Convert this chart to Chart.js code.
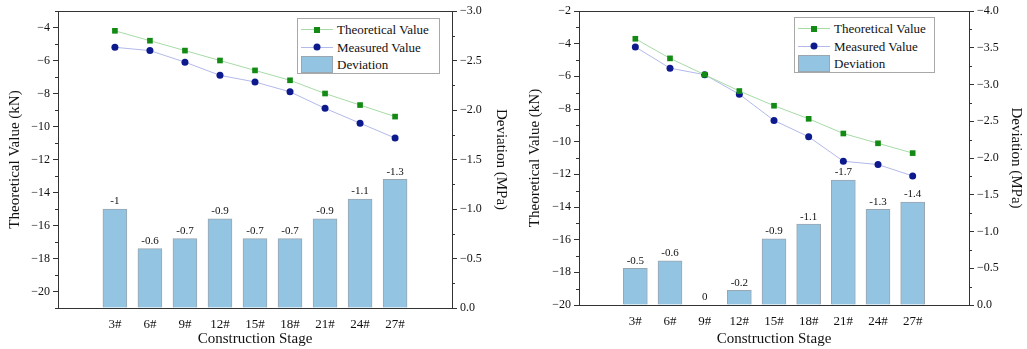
<!DOCTYPE html>
<html>
<head>
<meta charset="utf-8">
<script src="https://cdn.jsdelivr.net/npm/chart.js@4.4.1/dist/chart.umd.min.js"></script>
<style>
  body { margin: 0; background: #fff; width: 1027px; height: 349px; overflow: hidden; position: relative; font-family: "Liberation Serif", "Times New Roman", Tinos, "DejaVu Serif", serif; }
  .panel { position: absolute; top: 0; height: 349px; }
  .legend { position: absolute; background: #fff; border: 1px solid #a8a8a8; font-size: 13px; color: #111; box-sizing: border-box; padding-top: 2px; white-space: nowrap; }
  .row { height: 17.5px; line-height: 17.5px; display: flex; align-items: center; }
  .sym { position: relative; width: 32px; height: 17px; margin: 0 4px 0 3px; flex: none; }
  .sym .ln { position: absolute; left: 0; right: 0; top: 8px; height: 1px; }
  .sym .mk { position: absolute; left: 50%; top: 50%; transform: translate(-50%, -50%); }
  .sym .bx { position: absolute; left: 0; right: 0; top: 0; bottom: 0; border: 1px solid #9aa6b0; }
</style>
</head>
<body>
<div class="panel" style="left:0;width:512px"><canvas id="chartA" width="512" height="349"></canvas></div>
<div class="legend" id="legendA" style="left:297px;top:18px;width:143px;height:56px"></div>
<div class="panel" style="left:520px;width:507px"><canvas id="chartB" width="507" height="349"></canvas></div>
<div class="legend" id="legendB" style="left:794px;top:17px;width:141px;height:56px"></div>

<script>
const stages = [3, 6, 9, 12, 15, 18, 21, 24, 27];
const stageLabels = ['3#', '6#', '9#', '12#', '15#', '18#', '21#', '24#', '27#'];
const seriesNames = ['Theoretical Value', 'Measured Value', 'Deviation'];

// left chart
const theoA = [-4.2, -4.8, -5.4, -6.0, -6.6, -7.2, -8.0, -8.7, -9.4];
const measA = [-5.2, -5.4, -6.1, -6.9, -7.3, -7.9, -8.9, -9.8, -10.7];
const devA = [-1, -0.6, -0.7, -0.9, -0.7, -0.7, -0.9, -1.1, -1.3];
const leftTicksA = [-20, -18, -16, -14, -12, -10, -8, -6, -4];
const rightTicksA = [0, -0.5, -1.0, -1.5, -2.0, -2.5, -3.0];

// right chart
const theoB = [-3.7, -4.9, -5.9, -6.9, -7.8, -8.6, -9.5, -10.1, -10.7];
const measB = [-4.2, -5.5, -5.9, -7.1, -8.7, -9.7, -11.2, -11.4, -12.1];
const devB = [-0.5, -0.6, 0, -0.2, -0.9, -1.1, -1.7, -1.3, -1.4];
const leftTicksB = [-20, -18, -16, -14, -12, -10, -8, -6, -4, -2];
const rightTicksB = [0, -0.5, -1.0, -1.5, -2.0, -2.5, -3.0, -3.5, -4.0];

const greenLine = '#a6dba6', greenMark = '#138a13';
const blueLine = '#b3b9ea', blueMark = '#0c1a8e';
const barFill = '#93c4e2', barEdge = '#9aa6b0';
const axisColor = '#333';
const font = '"Liberation Serif", "Times New Roman", Tinos, "DejaVu Serif", serif';

function minus(s) { return s.replace('-', '\u2212'); }

// minor ticks, top frame, bar value labels
const extras = {
  id: 'extras',
  afterDraw(chart) {
    const ctx = chart.ctx;
    const area = chart.chartArea;
    ctx.save();
    ctx.strokeStyle = axisColor;
    ctx.lineWidth = 1;
    ctx.beginPath();
    ctx.moveTo(area.left, area.top + 0.5);
    ctx.lineTo(area.right, area.top + 0.5);
    ctx.stroke();

    ['y', 'y1'].forEach(id => {
      const s = chart.scales[id];
      const t = s.ticks.map(k => k.value).sort((a, b) => a - b);
      const step = t[1] - t[0];
      const lo = Math.min(s.min, s.max), hi = Math.max(s.min, s.max);
      ctx.beginPath();
      for (let v = t[0] - step / 2; v <= hi + 1e-9; v += step) {
        if (v < lo - 1e-9) continue;
        const py = Math.round(s.getPixelForValue(v)) + 0.5;
        if (id === 'y') { ctx.moveTo(area.left, py); ctx.lineTo(area.left - 3, py); }
        else { ctx.moveTo(area.right, py); ctx.lineTo(area.right + 3, py); }
      }
      ctx.stroke();
    });

    const meta = chart.getDatasetMeta(2);
    const vals = chart.data.datasets[2].data;
    ctx.fillStyle = '#111';
    ctx.font = '11px ' + font;
    ctx.textAlign = 'center';
    ctx.textBaseline = 'bottom';
    meta.data.forEach((el, i) => {
      ctx.fillText(String(vals[i].y), el.x, el.y - 2);
    });
    ctx.restore();
  }
};

function makeChart(id, theo, meas, dev, leftTicks, rightTicks, yMin, yMax, y1Min, leftW, rightW, bottomH) {
  return new Chart(document.getElementById(id), {
    data: {
      datasets: [
        { type: 'line', label: seriesNames[0], yAxisID: 'y', order: 1,
          data: stages.map((x, i) => ({ x, y: theo[i] })),
          borderColor: greenLine, borderWidth: 1, pointStyle: 'rect', pointRadius: 4,
          pointBackgroundColor: greenMark, pointBorderColor: greenMark, pointBorderWidth: 0 },
        { type: 'line', label: seriesNames[1], yAxisID: 'y', order: 2,
          data: stages.map((x, i) => ({ x, y: meas[i] })),
          borderColor: blueLine, borderWidth: 1, pointStyle: 'circle', pointRadius: 3.5,
          pointBackgroundColor: blueMark, pointBorderColor: blueMark, pointBorderWidth: 0 },
        { type: 'bar', label: seriesNames[2], yAxisID: 'y1', order: 3,
          data: stages.map((x, i) => ({ x, y: dev[i] })),
          backgroundColor: barFill, borderColor: barEdge, borderWidth: 1, barThickness: 24 }
      ]
    },
    options: {
      responsive: false,
      animation: false,
      layout: { padding: { top: 11, left: 0, right: 0, bottom: 0 } },
      plugins: { legend: { display: false }, tooltip: { enabled: false } },
      scales: {
        x: {
          type: 'linear', min: 0, max: 30,
          afterBuildTicks: s => { s.ticks = stages.map(v => ({ value: v })); },
          afterFit: s => { s.height = bottomH; },
          grid: { display: false },
          border: { display: true, color: axisColor, width: 1 },
          ticks: { color: '#111', font: { family: font, size: 13 }, padding: 1,
            callback: v => stageLabels[stages.indexOf(v)] },
          title: { display: true, text: 'Construction Stage', color: '#111',
            font: { family: font, size: 15 }, padding: { top: 0, bottom: 1 } }
        },
        y: {
          position: 'left', min: yMin, max: yMax,
          afterBuildTicks: s => { s.ticks = leftTicks.map(v => ({ value: v })); },
          afterFit: s => { s.width = leftW; },
          grid: { drawOnChartArea: false, tickLength: 5, color: axisColor },
          border: { display: true, color: axisColor, width: 1 },
          ticks: { color: '#111', font: { family: font, size: 12 }, padding: 3,
            callback: v => minus(String(v)) },
          title: { display: true, text: 'Theoretical Value (kN)', color: '#111',
            font: { family: font, size: 15 }, padding: { top: 6, bottom: 2 } }
        },
        y1: {
          position: 'right', min: y1Min, max: 0, reverse: true,
          afterBuildTicks: s => { s.ticks = rightTicks.map(v => ({ value: v })); },
          afterFit: s => { s.width = rightW; },
          grid: { drawOnChartArea: false, tickLength: 5, color: axisColor },
          border: { display: true, color: axisColor, width: 1 },
          ticks: { color: '#111', font: { family: font, size: 12 }, padding: 3,
            callback: v => minus(v.toFixed(1)) },
          title: { display: true, text: 'Deviation (MPa)', color: '#111',
            font: { family: font, size: 15 }, padding: { top: 2, bottom: 6 } }
        }
      }
    },
    plugins: [extras]
  });
}

function buildLegend(id) {
  const box = document.getElementById(id);
  const marks = [
    { line: greenLine, mark: `<span class="mk" style="width:6px;height:6px;background:${greenMark}"></span>` },
    { line: blueLine, mark: `<span class="mk" style="width:7px;height:7px;border-radius:50%;background:${blueMark}"></span>` },
    null
  ];
  seriesNames.forEach((name, i) => {
    const row = document.createElement('div');
    row.className = 'row';
    const sym = marks[i]
      ? `<span class="sym"><span class="ln" style="background:${marks[i].line}"></span>${marks[i].mark}</span>`
      : `<span class="sym"><span class="bx" style="background:${barFill}"></span></span>`;
    row.innerHTML = sym + '<span>' + name + '</span>';
    box.appendChild(row);
  });
}

makeChart('chartA', theoA, measA, devA, leftTicksA, rightTicksA, -21, -3, -3, 58, 60, 41);
makeChart('chartB', theoB, measB, devB, leftTicksB, rightTicksB, -20, -2, -4, 59, 58, 44);
buildLegend('legendA');
buildLegend('legendB');
</script>
</body>
</html>
